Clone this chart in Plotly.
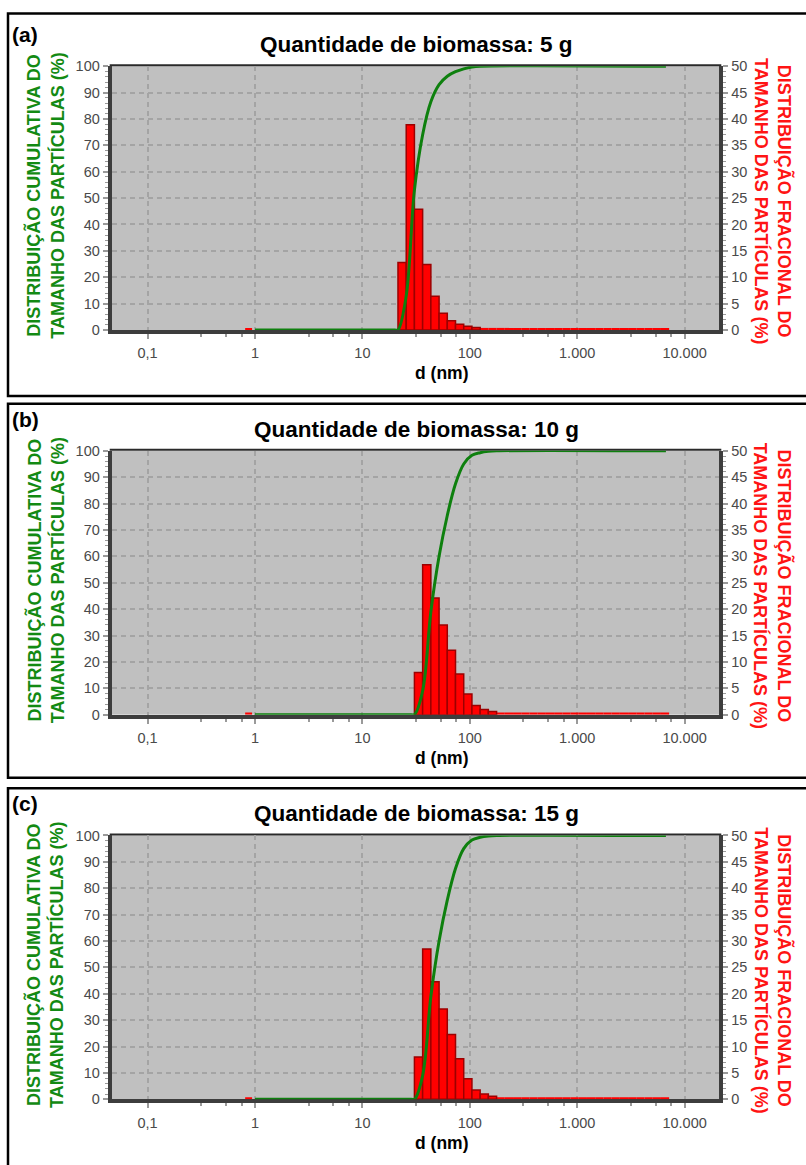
import plotly.graph_objects as go

W, H = 806, 1165

# ---------------- data ----------------
sample_titles = ["Quantidade de biomassa: 5 g",
                 "Quantidade de biomassa: 10 g",
                 "Quantidade de biomassa: 15 g"]
panel_labels = ["(a)", "(b)", "(c)"]

# size-class edges (nm), common to all samples
bin_edges_nm = [21.45, 25.59, 30.51, 36.39, 43.40, 51.76, 61.73, 73.62, 87.79,
                104.7, 124.9, 148.9, 177.6, 211.8, 252.6, 301.3, 359.3, 428.5,
                511.0, 609.5, 726.9, 866.9, 1034, 1233, 1471, 1754, 2092, 2495,
                2975, 3548, 4232, 5047, 6019, 7178]

# fractional distribution (%) per size class
frac_5g = [12.8, 38.9, 22.9, 12.4, 6.4, 3.2, 1.75, 1.1, 0.7, 0.5,
           0.4, 0.4, 0.4, 0.4, 0.4, 0.4, 0.4, 0.4, 0.4, 0.4, 0.4, 0.4,
           0.4, 0.4, 0.4, 0.4, 0.4, 0.4, 0.4, 0.4, 0.4, 0.4, 0.4]
frac_10g = [0, 0, 8.0, 28.4, 22.1, 17.0, 12.2, 7.7, 3.9, 1.75, 1.0, 0.6,
            0.4, 0.4, 0.4, 0.4, 0.4, 0.4, 0.4, 0.4, 0.4, 0.4, 0.4,
            0.4, 0.4, 0.4, 0.4, 0.4, 0.4, 0.4, 0.4, 0.4, 0.4]
frac_15g = [0, 0, 8.0, 28.5, 22.3, 17.1, 12.3, 7.7, 3.9, 1.75, 1.0, 0.6,
            0.4, 0.4, 0.4, 0.4, 0.4, 0.4, 0.4, 0.4, 0.4, 0.4, 0.4,
            0.4, 0.4, 0.4, 0.4, 0.4, 0.4, 0.4, 0.4, 0.4, 0.4]

# small class just below 1 nm
fine_bin_nm = [0.81, 0.94]
fine_frac = [0.4, 0.4, 0.4]

# cumulative distribution (%)
cum_d_5g = [1.0, 20.0, 21.45, 25.59, 30.51, 36.39, 43.40, 51.76, 61.73, 73.62, 87.79, 104.7, 124.9, 6700]
cum_5g = [0, 0, 0, 13.0, 53.0, 74.0, 86.5, 93.0, 96.2, 97.9, 99.0, 99.7, 100, 100]
cum_d_10g = [1.0, 28.5, 30.51, 36.39, 43.40, 51.76, 61.73, 73.62, 87.79, 104.7, 124.9, 148.9, 177.6, 6700]
cum_10g = [0, 0, 0, 9.0, 39.0, 60.0, 75.5, 87.5, 95.0, 98.3, 99.3, 99.8, 100, 100]
cum_d_15g = [1.0, 28.5, 30.51, 36.39, 43.40, 51.76, 61.73, 73.62, 87.79, 104.7, 124.9, 148.9, 177.6, 6700]
cum_15g = [0, 0, 0, 9.0, 39.0, 60.0, 75.5, 87.5, 95.0, 98.3, 99.3, 99.8, 100, 100]

x_tickvals = [0.1, 1, 10, 100, 1000, 10000]
x_ticktext = ["0,1", "1", "10", "100", "1.000", "10.000"]
x_minor = [0.316, 0.536, 0.75, 3.16, 5.36, 7.5, 31.6, 53.6, 75, 316, 536, 750,
           3160, 5360, 7500]

fracs = [frac_5g, frac_10g, frac_15g]
cums = [(cum_d_5g, cum_5g), (cum_d_10g, cum_10g), (cum_d_15g, cum_15g)]

# ---------------- style ----------------
FONT = "Liberation Sans, Arial, sans-serif"
GREEN_LINE = "#0e800e"
GREEN_TXT = "#138a13"
RED_TXT = "#ff1414"
FRAME = "#3d3d3d"
TICKC = "#9a9a9a"
LBL = "#4a4a4a"
GRID = "#a4a4a4"

PX_L, PX_R = 111.7, 719.3
PLOT_TOP0, PLOT_H, STEP = 59.0, 267.5, 390.0


def px(xp):
    return xp / W


def py(yp):
    return 1 - yp / H


fig = go.Figure()
layout = dict(width=W, height=H, margin=dict(l=0, r=0, t=0, b=0),
              paper_bgcolor="white", plot_bgcolor="#c0c0c0",
              barmode="overlay", showlegend=False,
              font=dict(family=FONT, color=LBL, size=14))
annotations = []
shapes = []

for p in range(3):
    n = p + 1
    xa = "x" if n == 1 else f"x{n}"
    yb = "y" if p == 0 else f"y{2 * p + 1}"
    yc = f"y{2 * p + 2}"
    top = PLOT_TOP0 + STEP * p
    bot = top + PLOT_H

    fr = fracs[p]
    main_x, main_w, main_y = [], [], []
    tail_x, tail_w, tail_y = [], [], []
    for i, v in enumerate(fr):
        if v <= 0:
            continue
        lo, hi = bin_edges_nm[i], bin_edges_nm[i + 1]
        if v >= 0.5:
            main_x.append((lo + hi) / 2); main_w.append(hi - lo); main_y.append(v)
        else:
            tail_x.append((lo + hi) / 2); tail_w.append(hi - lo); tail_y.append(v)
    tail_x.append((fine_bin_nm[0] + fine_bin_nm[1]) / 2)
    tail_w.append(fine_bin_nm[1] - fine_bin_nm[0])
    tail_y.append(fine_frac[p])

    fig.add_trace(go.Bar(x=tail_x, y=tail_y, width=tail_w, xaxis=xa, yaxis=yb,
                         marker=dict(color="#ff0000", line=dict(width=0))))
    fig.add_trace(go.Bar(x=main_x, y=main_y, width=main_w, xaxis=xa, yaxis=yb,
                         marker=dict(color="#ff0000",
                                     line=dict(color="#9c0000", width=1.5))))
    cd, cv = cums[p]
    fig.add_trace(go.Scatter(x=cd, y=cv, mode="lines", xaxis=xa, yaxis=yc,
                             cliponaxis=False,
                             line=dict(color=GREEN_LINE, width=3, shape="spline",
                                       smoothing=1.0)))

    ydom = [py(bot), py(top)]
    xkey = "xaxis" if n == 1 else f"xaxis{n}"
    ybkey = "yaxis" if p == 0 else f"yaxis{2 * p + 1}"
    yckey = f"yaxis{2 * p + 2}"

    layout[xkey] = dict(type="log", domain=[px(PX_L), px(PX_R)], anchor=yb,
                        range=[-1.334, 4.323], tickmode="array",
                        tickvals=x_tickvals, ticktext=x_ticktext,
                        showgrid=True, gridcolor=GRID, gridwidth=2,
                        griddash="5px,4px", showline=True, linecolor=FRAME,
                        linewidth=4, ticks="outside", ticklen=5, tickwidth=2,
                        tickcolor=TICKC, ticklabelstandoff=2,
                        tickfont=dict(size=14.5, color=LBL), zeroline=False,
                        layer="below traces",
                        minor=dict(tickvals=x_minor, ticks="outside", ticklen=3,
                                   tickwidth=2, tickcolor=TICKC, showgrid=False))
    layout[ybkey] = dict(domain=ydom, anchor=xa, side="right", range=[0, 50],
                         tickmode="linear", tick0=0, dtick=5,
                         showgrid=True, gridcolor=GRID, gridwidth=2,
                         griddash="5px,4px", showline=True, linecolor=FRAME,
                         linewidth=4, ticks="outside", ticklen=5, tickwidth=2,
                         tickcolor=TICKC, tickfont=dict(size=14.5, color=LBL),
                         zeroline=False, layer="below traces",
                         minor=dict(dtick=1, ticks="outside", ticklen=3,
                                    tickwidth=1, tickcolor=TICKC, showgrid=False))
    layout[yckey] = dict(domain=ydom, anchor=xa, side="left", overlaying=yb,
                         range=[0, 100], tickmode="linear", tick0=0, dtick=10,
                         showgrid=False, showline=True, linecolor=FRAME,
                         linewidth=4, ticks="outside", ticklen=5, tickwidth=2,
                         tickcolor=TICKC, tickfont=dict(size=14.5, color=LBL),
                         zeroline=False, layer="below traces",
                         minor=dict(dtick=2, ticks="outside", ticklen=3,
                                    tickwidth=1, tickcolor=TICKC, showgrid=False))

    shapes.append(dict(type="line", xref="paper", yref="paper",
                       x0=px(PX_L - 2), x1=px(PX_R + 2), y0=py(top - 1), y1=py(top - 1),
                       line=dict(color="#2a2a2a", width=2), layer="below"))

    annotations.append(dict(text="<b>" + sample_titles[p] + "</b>", xref="paper",
                            yref="paper", x=px(416), y=py(top - 22), showarrow=False,
                            xanchor="center", yanchor="middle",
                            font=dict(size=22.5, color="black", family=FONT)))
    annotations.append(dict(text="<b>" + panel_labels[p] + "</b>", xref="paper",
                            yref="paper", x=px(10), y=py(top - 32), showarrow=False,
                            xanchor="left", yanchor="middle",
                            font=dict(size=21, color="black", family=FONT)))
    annotations.append(dict(text="<b>d (nm)</b>", xref="paper", yref="paper",
                            x=px(442), y=py(bot + 44), showarrow=False,
                            xanchor="center", yanchor="middle",
                            font=dict(size=17.5, color="black", family=FONT)))
    annotations.append(dict(text="<b>DISTRIBUIÇÃO CUMULATIVA DO<br>TAMANHO DAS PARTÍCULAS (%)</b>",
                            xref="paper", yref="paper", x=px(45.5),
                            y=py((top + bot) / 2 - 2), showarrow=False, textangle=-90,
                            xanchor="center", yanchor="middle", align="center",
                            font=dict(size=18, color=GREEN_TXT, family=FONT)))
    annotations.append(dict(text="<b>DISTRIBUIÇÃO FRACIONAL DO<br>TAMANHO DAS PARTÍCULAS (%)</b>",
                            xref="paper", yref="paper", x=px(773),
                            y=py((top + bot) / 2 + 3), showarrow=False, textangle=90,
                            xanchor="center", yanchor="middle", align="center",
                            font=dict(size=18, color=RED_TXT, family=FONT)))

for (y0, y1) in [(5.5, 393.3), (401.2, 780.5), (791.2, 1175)]:
    shapes.append(dict(type="rect", xref="paper", yref="paper",
                       x0=px(8), x1=px(830), y0=py(y0), y1=py(y1),
                       line=dict(color="black", width=2.5), fillcolor="rgba(0,0,0,0)",
                       layer="above"))

layout["annotations"] = annotations
layout["shapes"] = shapes
fig.update_layout(**layout)
fig.write_html("out.html")
